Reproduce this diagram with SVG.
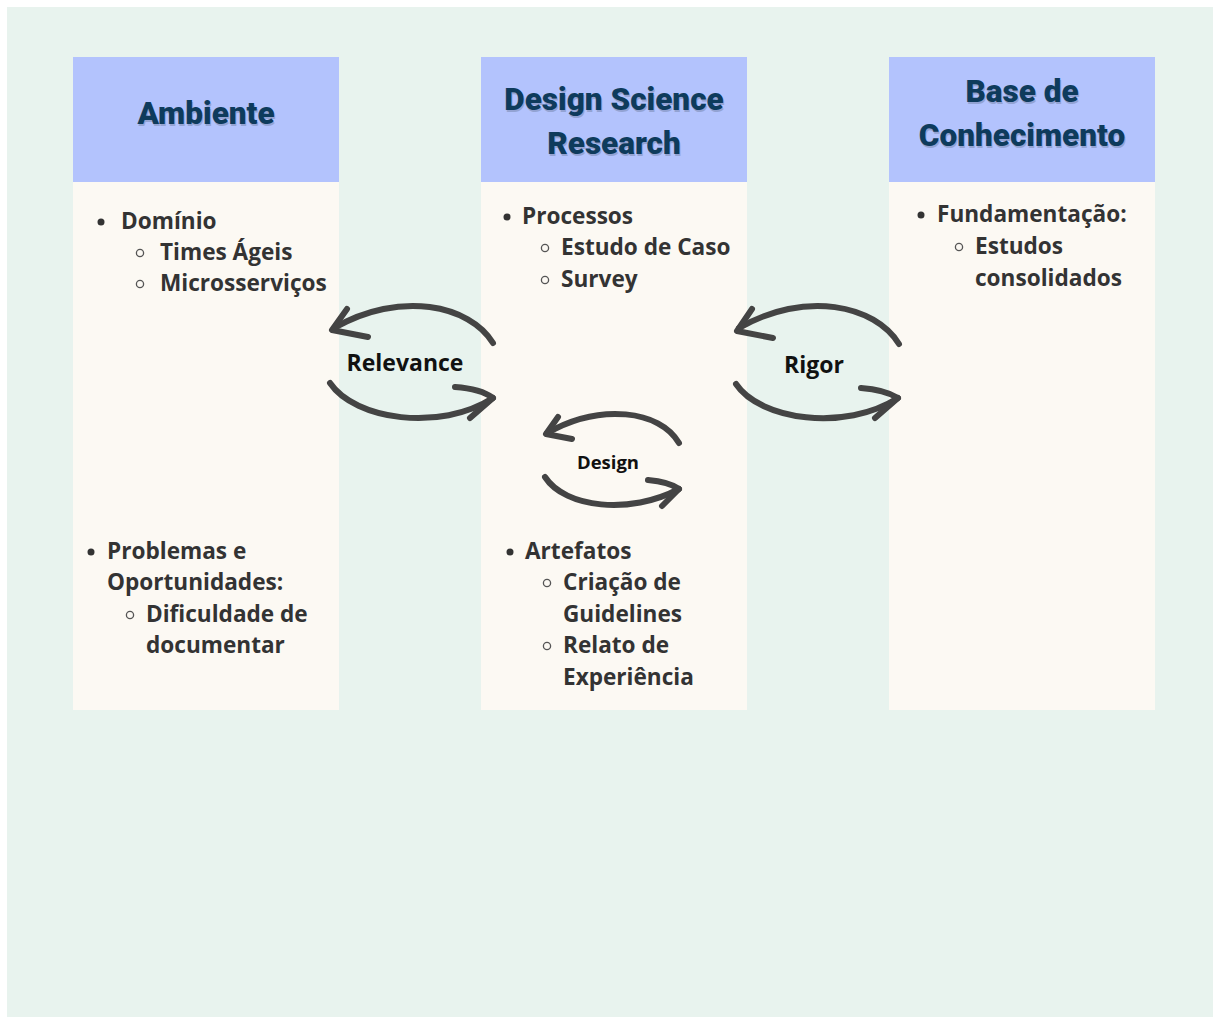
<svg xmlns="http://www.w3.org/2000/svg" width="1213" height="1017" viewBox="0 0 1213 1017">
<defs>
<style>
.hdr{fill:#b3c3fd}
.body{fill:#fcf9f3}
.title{font-family:Roboto,"Liberation Sans",sans-serif;font-weight:900;font-size:31.5px;fill:#0e3b5c;text-anchor:middle}
.shadow{fill:#7f8fb8;opacity:0.6}
.txt{font-family:"Open Sans","Noto Sans",sans-serif;font-weight:bold;font-size:22.6px;fill:#333333}
.lbl{font-family:"Open Sans","Noto Sans",sans-serif;font-weight:bold;font-size:23px;fill:#111;text-anchor:middle}
.arc{fill:none;stroke:#444;stroke-width:6;stroke-linecap:round;stroke-linejoin:round}
.dot{fill:#333333}
.ring{fill:none;stroke:#555;stroke-width:1.3}
</style>
</defs>
<rect x="0" y="0" width="1213" height="1017" fill="#ffffff"/>
<rect x="7" y="7" width="1206" height="1010" fill="#e8f3ee"/>

<g id="ambiente">
<rect class="body" x="73" y="182" width="266" height="528"/>
<rect class="hdr" x="73" y="57" width="266" height="125"/>
<text class="title shadow" x="207" y="126">Ambiente</text>
<text class="title" x="206" y="124">Ambiente</text>
<circle class="dot" cx="101" cy="222" r="3.5"/>
<text class="txt" x="121" y="229">Domínio</text>
<circle class="ring" cx="140" cy="253" r="3.6"/>
<text class="txt" x="160" y="260">Times Ágeis</text>
<circle class="ring" cx="140" cy="284" r="3.6"/>
<text class="txt" x="160" y="291">Microsserviços</text>
<circle class="dot" cx="91" cy="552" r="3.5"/>
<text class="txt" x="107" y="559">Problemas e</text>
<text class="txt" x="107" y="590">Oportunidades:</text>
<circle class="ring" cx="130" cy="615" r="3.6"/>
<text class="txt" x="146" y="622">Dificuldade de</text>
<text class="txt" x="146" y="653">documentar</text>
</g>

<g id="dsr">
<rect class="body" x="481" y="182" width="266" height="528"/>
<rect class="hdr" x="481" y="57" width="266" height="125"/>
<text class="title shadow" x="615" y="112">Design Science</text>
<text class="title" x="614" y="110">Design Science</text>
<text class="title shadow" x="615" y="156">Research</text>
<text class="title" x="614" y="154">Research</text>
<circle class="dot" cx="507" cy="217" r="3.5"/>
<text class="txt" x="522" y="224">Processos</text>
<circle class="ring" cx="545" cy="248" r="3.6"/>
<text class="txt" x="561" y="255">Estudo de Caso</text>
<circle class="ring" cx="545" cy="280" r="3.6"/>
<text class="txt" x="561" y="287">Survey</text>
<circle class="dot" cx="510" cy="552" r="3.5"/>
<text class="txt" x="525" y="559">Artefatos</text>
<circle class="ring" cx="547" cy="583" r="3.6"/>
<text class="txt" x="563" y="590">Criação de</text>
<text class="txt" x="563" y="622">Guidelines</text>
<circle class="ring" cx="547" cy="646" r="3.6"/>
<text class="txt" x="563" y="653">Relato de</text>
<text class="txt" x="563" y="685">Experiência</text>
</g>

<g id="base">
<rect class="body" x="889" y="182" width="266" height="528"/>
<rect class="hdr" x="889" y="57" width="266" height="125"/>
<text class="title shadow" x="1023" y="104">Base de</text>
<text class="title" x="1022" y="102">Base de</text>
<text class="title shadow" x="1023" y="148">Conhecimento</text>
<text class="title" x="1022" y="146">Conhecimento</text>
<circle class="dot" cx="921" cy="215" r="3.5"/>
<text class="txt" x="937" y="222">Fundamentação:</text>
<circle class="ring" cx="959" cy="247" r="3.6"/>
<text class="txt" x="975" y="254">Estudos</text>
<text class="txt" x="975" y="286">consolidados</text>
</g>

<g id="connectors">
<!-- Relevance -->
<path class="arc" d="M493,343 C470,305 400,290 334,328"/>
<path class="arc" d="M347,309 L332,330 L368,337"/>
<path class="arc" d="M330,383 C355,420 440,432 493,398"/>
<path class="arc" d="M455,387 C470,388 485,392 493,398 L470,418"/>
<text class="lbl" x="405" y="371">Relevance</text>
<!-- Rigor -->
<path class="arc" d="M899,344 C875,305 805,290 739,328"/>
<path class="arc" d="M752,309 L737,331 L773,338"/>
<path class="arc" d="M736,384 C760,420 845,432 898,398"/>
<path class="arc" d="M861,388 C876,389 890,393 898,398 L875,418"/>
<text class="lbl" x="814" y="373">Rigor</text>
<!-- Design -->
<path class="arc" d="M679,443 C660,410 600,403 547,433"/>
<path class="arc" d="M558,417 L546,434 L572,439"/>
<path class="arc" d="M545,477 C565,508 630,515 679,489"/>
<path class="arc" d="M648,480 C660,481 672,484 679,489 L662,506"/>
<text class="lbl" x="608" y="469" style="font-size:18.5px">Design</text>
</g>
</svg>
